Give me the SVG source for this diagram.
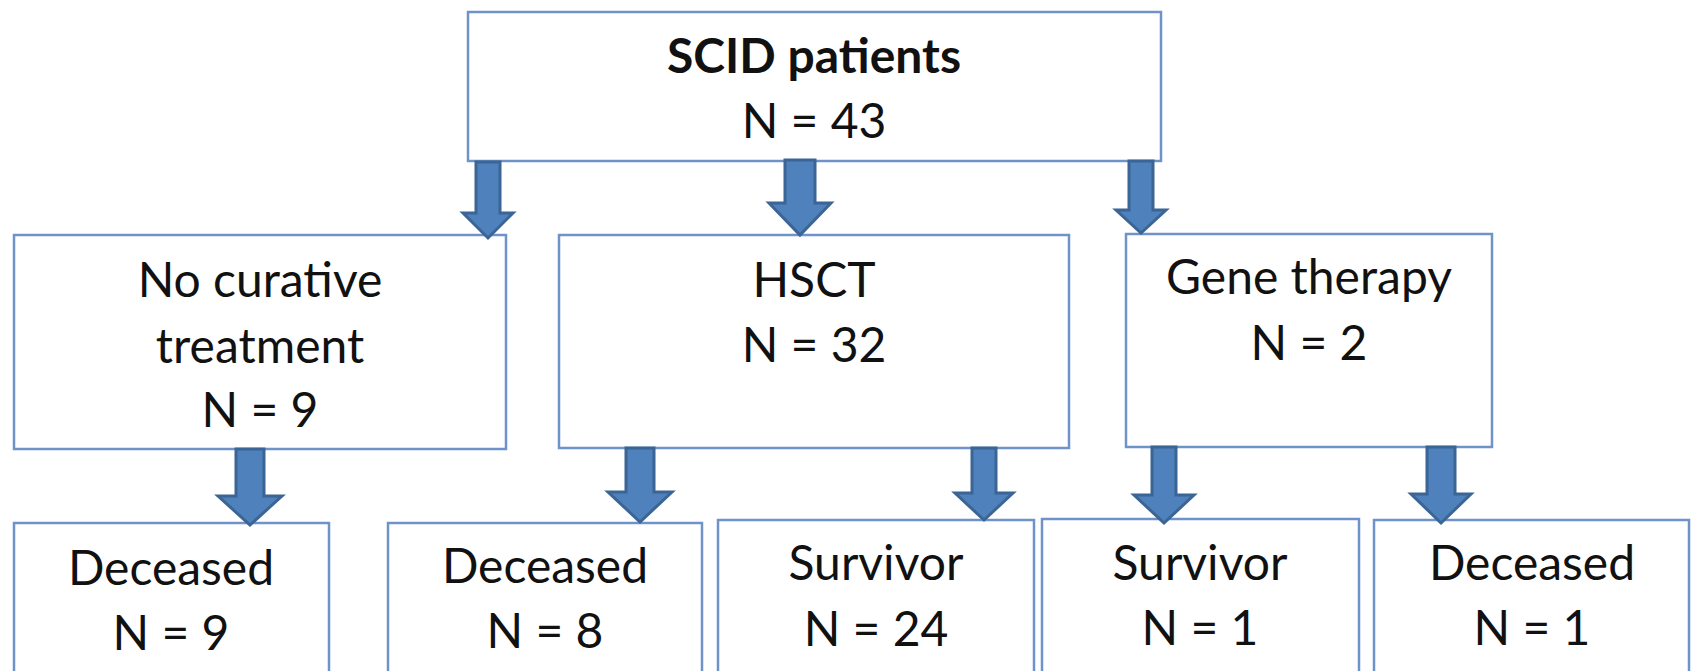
<svg xmlns="http://www.w3.org/2000/svg" width="1691" height="671" viewBox="0 0 1691 671">
<style>
.box{fill:#ffffff;stroke:#6f93c9;stroke-width:2.5}
.t{font-family:Lato,"Liberation Sans",sans-serif;font-size:48px;fill:#111111;text-anchor:middle}
.b{font-weight:bold;font-size:48px}
.arr{fill:#4f81bd;stroke:#3b6594;stroke-width:3;stroke-linejoin:miter}
</style>
<rect width="1691" height="671" fill="#ffffff"/>
<g id="n-top"><rect class="box" x="468" y="12" width="693" height="149"/>
<text class="t b" x="814" y="73">SCID patients</text>
<text class="t" x="814" y="138">N = 43</text></g>
<g id="n-none"><rect class="box" x="14" y="235" width="492" height="214"/>
<text class="t" x="260" y="297">No curative</text>
<text class="t" x="260" y="363">treatment</text>
<text class="t" x="260" y="427">N = 9</text></g>
<g id="n-hsct"><rect class="box" x="559" y="235" width="510" height="213"/>
<text class="t" x="814" y="297">HSCT</text>
<text class="t" x="814" y="362">N = 32</text></g>
<g id="n-gene"><rect class="box" x="1126" y="234" width="366" height="213"/>
<text class="t" x="1309" y="294">Gene therapy</text>
<text class="t" x="1309" y="360">N = 2</text></g>
<g id="n-d1"><rect class="box" x="14" y="523" width="315" height="160"/>
<text class="t" x="171" y="585">Deceased</text>
<text class="t" x="171" y="650">N = 9</text></g>
<g id="n-d2"><rect class="box" x="388" y="523" width="314" height="160"/>
<text class="t" x="545" y="583">Deceased</text>
<text class="t" x="545" y="648">N = 8</text></g>
<g id="n-s1"><rect class="box" x="718" y="520" width="316" height="163"/>
<text class="t" x="876" y="580">Survivor</text>
<text class="t" x="876" y="646">N = 24</text></g>
<g id="n-s2"><rect class="box" x="1042" y="519" width="317" height="164"/>
<text class="t" x="1200" y="580">Survivor</text>
<text class="t" x="1200" y="645">N = 1</text></g>
<g id="n-d3"><rect class="box" x="1374" y="520" width="315" height="163"/>
<text class="t" x="1532" y="580">Deceased</text>
<text class="t" x="1532" y="645">N = 1</text></g>
<g id="connectors">
<path class="arr" d="M476,162 H500 V213 H513 L488,238 L463,213 H476 Z"/>
<path class="arr" d="M785,160 H815 V203 H831 L800,235 L769,203 H785 Z"/>
<path class="arr" d="M1129,161 H1153 V210 H1166 L1141,233 L1116,210 H1129 Z"/>
<path class="arr" d="M236,449 H264 V496 H282 L250,525 L218,496 H236 Z"/>
<path class="arr" d="M626,448 H654 V492 H672 L640,522 L608,492 H626 Z"/>
<path class="arr" d="M972,448 H996 V493 H1013 L984,520 L955,493 H972 Z"/>
<path class="arr" d="M1152,447 H1176 V495 H1194 L1164,523 L1134,495 H1152 Z"/>
<path class="arr" d="M1427,447 H1455 V494 H1471 L1441,523 L1411,494 H1427 Z"/>
</g>
</svg>
